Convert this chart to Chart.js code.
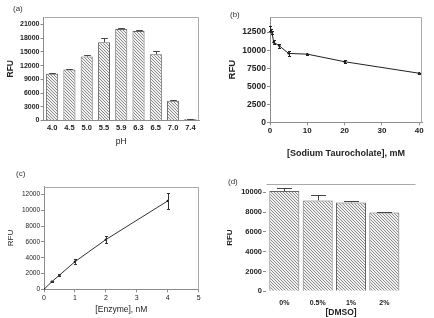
<!DOCTYPE html>
<html>
<head>
<meta charset="utf-8">
<script src="https://cdn.jsdelivr.net/npm/chart.js@4.4.1/dist/chart.umd.min.js"></script>
<style>
  html, body { margin: 0; padding: 0; background: #fff; }
  #wrap { position: relative; width: 434px; height: 318px; overflow: hidden; background: #fff; }
  .pane { position: absolute; width: 217px; height: 159px; }
  .lbl { position: absolute; font: 8px "Liberation Sans", Arial, sans-serif; color: #333; line-height: 1; }
</style>
</head>
<body>
<div id="wrap">
  <div class="pane" style="left:0;top:0"><canvas id="ca" width="217" height="159"></canvas></div>
  <div class="pane" style="left:217px;top:0"><canvas id="cb" width="217" height="159"></canvas></div>
  <div class="pane" style="left:0;top:159px"><canvas id="cc" width="217" height="159"></canvas></div>
  <div class="pane" style="left:217px;top:159px"><canvas id="cd" width="217" height="159"></canvas></div>
  <div class="lbl" style="left:13px;top:5px">(a)</div>
  <div class="lbl" style="left:230px;top:11px">(b)</div>
  <div class="lbl" style="left:16px;top:170px">(c)</div>
  <div class="lbl" style="left:228px;top:178px">(d)</div>
</div>
<script>
// ---------- data ----------
const phLabels = ['4.0', '4.5', '5.0', '5.5', '5.9', '6.3', '6.5', '7.0', '7.4'];
const phRFU    = [10250, 11150, 14000, 17150, 20050, 19600, 14500, 4300, 350];
const phErr    = [150, 100, 250, 850, 150, 100, 800, 150, 50];
const phYTicks = [0, 3000, 6000, 9000, 12000, 15000, 18000, 21000];

const tauroConc = [0, 0.25, 0.5, 1, 2.5, 5, 10, 20, 40];
const tauroRFU  = [12950, 12700, 12500, 11100, 10600, 9550, 9450, 8400, 6800];
const tauroErr  = [350, 200, 200, 250, 300, 400, 80, 180, 50];
const tauroXTicks = [0, 10, 20, 30, 40];
const tauroYTicks = [0, 2500, 5000, 7500, 10000, 12500];

const enzConc = [0, 0.25, 0.5, 1, 2, 4];
const enzRFU  = [0, 950, 1800, 3500, 6300, 11200];
const enzErr  = [0, 50, 150, 300, 400, 1050];
const enzXTicks = [0, 1, 2, 3, 4, 5];
const enzYTicks = [0, 2000, 4000, 6000, 8000, 10000, 12000];

const dmsoLabels = ['0%', '0.5%', '1%', '2%'];
const dmsoRFU    = [10130, 9190, 8990, 7980];
const dmsoErr    = [330, 530, 100, 60];
const dmsoYTicks = [0, 2000, 4000, 6000, 8000, 10000];

// ---------- helpers ----------
const FAM = '"Liberation Sans", Arial, sans-serif';
const TXT = '#222';
const AX = '#8c8c8c';
const plain = v => String(v);

function hatch() {
  const s = 3;
  const c = document.createElement('canvas');
  c.width = s; c.height = s;
  const g = c.getContext('2d');
  g.fillStyle = '#f2f2f2';
  g.fillRect(0, 0, s, s);
  g.fillStyle = '#8a8a8a';
  for (let i = 0; i < s; i++) g.fillRect(i, i, 1, 1);
  return g.createPattern(c, 'repeat');
}

const framePlugin = {
  id: 'frame',
  afterDraw(chart, args, o) {
    if (!o || !o.sides) return;
    const { ctx, chartArea: a } = chart;
    const L = Math.round(a.left) + 0.5, R = Math.round(a.right) - 0.5, T = Math.round(a.top) + 0.5;
    ctx.save();
    ctx.strokeStyle = o.color || '#aaa';
    ctx.lineWidth = 1;
    ctx.beginPath();
    if (o.sides.includes('t')) { ctx.moveTo(L, T); ctx.lineTo(R, T); }
    if (o.sides.includes('r')) { ctx.moveTo(R, T); ctx.lineTo(R, a.bottom); }
    ctx.stroke();
    ctx.restore();
  }
};

const errPlugin = {
  id: 'errbars',
  afterDatasetsDraw(chart, args, o) {
    if (!o || !o.errors) return;
    const { ctx } = chart;
    const meta = chart.getDatasetMeta(0);
    const ys = chart.scales.y;
    const raw = chart.data.datasets[0].data;
    ctx.save();
    ctx.strokeStyle = o.color || '#333';
    ctx.lineWidth = 1;
    meta.data.forEach((el, i) => {
      const e = o.errors[i];
      if (!e) return;
      const v = (typeof raw[i] === 'object') ? raw[i].y : raw[i];
      const x = Math.round(el.x) + 0.5;
      const yt = Math.round(ys.getPixelForValue(v + e)) + 0.5;
      const yb = o.both ? Math.round(ys.getPixelForValue(v - e)) + 0.5 : el.y;
      const cw = o.capFrac ? el.width * o.capFrac / 2 : (o.cap || 2);
      ctx.beginPath();
      ctx.moveTo(x, yb); ctx.lineTo(x, yt);
      ctx.moveTo(x - cw, yt); ctx.lineTo(x + cw, yt);
      if (o.both) { ctx.moveTo(x - cw, yb); ctx.lineTo(x + cw, yb); }
      ctx.stroke();
    });
    ctx.restore();
  }
};
Chart.register(framePlugin, errPlugin);

function fixTicks(arr) { return s => { s.ticks = arr.map(v => ({ value: v })); }; }
function fixW(w) { return s => { s.width = w; }; }
function fixH(h) { return s => { s.height = h; }; }
function font(sz, w) { return { family: FAM, size: sz, weight: w || 'normal', lineHeight: 1.2 }; }

const base = {
  responsive: false,
  animation: false,
  devicePixelRatio: 1,
  events: [],
  plugins: { legend: { display: false }, tooltip: { enabled: false } }
};

// ---------- (a) pH ----------
new Chart(document.getElementById('ca'), {
  type: 'bar',
  data: {
    labels: phLabels,
    datasets: [{ data: phRFU, backgroundColor: hatch(), borderColor: '#666', borderWidth: 1,
      barPercentage: 0.7, categoryPercentage: 1.0 }]
  },
  options: Object.assign({}, base, {
    layout: { padding: { top: 17, right: 18, left: 0, bottom: 0 } },
    plugins: Object.assign({}, base.plugins, {
      frame: { sides: 'tr', color: '#aaa' },
      errbars: { errors: phErr, both: false, capFrac: 0.55, color: '#444' }
    }),
    scales: {
      x: {
        offset: true,
        grid: { display: true, drawOnChartArea: false, drawTicks: false, offset: true },
        border: { display: true, color: AX },
        ticks: { font: font(7.5, 'bold'), color: TXT, padding: 3, maxRotation: 0 },
        title: { display: true, text: 'pH', font: font(8.5), color: TXT, padding: { top: 0, bottom: 12 } },
        afterFit: fixH(38.5)
      },
      y: {
        min: 0, max: 22650,
        grid: { display: true, drawOnChartArea: false, tickLength: 3, color: AX },
        border: { display: true, color: AX },
        ticks: { font: font(7, 'bold'), color: TXT, padding: 1, callback: plain },
        afterBuildTicks: fixTicks(phYTicks),
        title: { display: true, text: 'RFU', font: font(8.5, 'bold'), color: TXT, padding: { top: 6, bottom: 0 } },
        afterFit: fixW(43.5)
      }
    }
  })
});

// ---------- (b) sodium taurocholate ----------
new Chart(document.getElementById('cb'), {
  type: 'scatter',
  data: {
    datasets: [{ data: tauroConc.map((x, i) => ({ x: x, y: tauroRFU[i] })), showLine: true,
      borderColor: '#222', borderWidth: 1, pointRadius: 1.2, pointBackgroundColor: '#111',
      pointBorderWidth: 0 }]
  },
  options: Object.assign({}, base, {
    layout: { padding: { top: 17, right: 12, left: 0, bottom: 0 } },
    plugins: Object.assign({}, base.plugins, {
      frame: { sides: 'tr', color: '#aaa' },
      errbars: { errors: tauroErr, both: true, cap: 1.5, color: '#222' }
    }),
    scales: {
      x: {
        type: 'linear', min: 0, max: 40.75,
        grid: { display: true, drawOnChartArea: false, tickLength: 3, color: AX },
        border: { display: true, color: AX },
        ticks: { font: font(8, 'bold'), color: TXT, padding: 1, maxRotation: 0, callback: plain },
        afterBuildTicks: fixTicks(tauroXTicks),
        title: { display: true, text: '[Sodium Taurocholate], mM', font: font(9, 'bold'), color: TXT, padding: { top: 0, bottom: 0 } },
        afterFit: fixH(36.7)
      },
      y: {
        min: 0, max: 14600,
        grid: { display: true, drawOnChartArea: false, tickLength: 3, color: AX },
        border: { display: true, color: AX },
        ticks: { font: font(8.5, 'bold'), color: TXT, padding: 1, callback: plain },
        afterBuildTicks: fixTicks(tauroYTicks),
        title: { display: true, text: 'RFU', font: font(9.5, 'bold'), color: TXT, padding: { top: 10, bottom: 0 } },
        afterFit: fixW(53)
      }
    }
  })
});

// ---------- (c) enzyme ----------
new Chart(document.getElementById('cc'), {
  type: 'scatter',
  data: {
    datasets: [{ data: enzConc.map((x, i) => ({ x: x, y: enzRFU[i] })), showLine: true,
      borderColor: '#333', borderWidth: 1, pointRadius: 1.2, pointBackgroundColor: '#111',
      pointBorderWidth: 0 }]
  },
  options: Object.assign({}, base, {
    layout: { padding: { top: 27.7, right: 18.3, left: 0, bottom: 0 } },
    plugins: Object.assign({}, base.plugins, {
      frame: { sides: 'tr', color: '#aaa' },
      errbars: { errors: enzErr, both: true, cap: 1.5, color: '#333' }
    }),
    scales: {
      x: {
        type: 'linear', min: 0, max: 5,
        grid: { display: true, drawOnChartArea: false, tickLength: 3, color: AX },
        border: { display: true, color: AX },
        ticks: { font: font(7), color: TXT, padding: 2, maxRotation: 0, callback: plain },
        afterBuildTicks: fixTicks(enzXTicks),
        title: { display: true, text: '[Enzyme], nM', font: font(8.5), color: TXT, padding: { top: 0, bottom: 3.5 } },
        afterFit: fixH(28.7)
      },
      y: {
        min: 0, max: 13000,
        grid: { display: true, drawOnChartArea: false, tickLength: 3, color: AX },
        border: { display: true, color: AX },
        ticks: { font: font(6.5), color: TXT, padding: 1, callback: plain },
        afterBuildTicks: fixTicks(enzYTicks),
        title: { display: true, text: 'RFU', font: font(8), color: TXT, padding: { top: 6, bottom: 0 } },
        afterFit: fixW(44)
      }
    }
  })
});

// ---------- (d) DMSO ----------
new Chart(document.getElementById('cd'), {
  type: 'bar',
  data: {
    datasets: [{ data: dmsoRFU.map((y, i) => ({ x: i, y: y })), backgroundColor: hatch(),
      borderColor: '#666', borderWidth: 1, barPercentage: 0.9, categoryPercentage: 1.0 }]
  },
  options: Object.assign({}, base, {
    layout: { padding: { top: 25, right: 18, left: 0, bottom: 0 } },
    plugins: Object.assign({}, base.plugins, {
      frame: { sides: 't', color: '#aaa' },
      errbars: { errors: dmsoErr, both: false, capFrac: 0.5, color: '#444' }
    }),
    scales: {
      x: {
        type: 'linear', min: -0.55, max: 3.95, offset: false,
        grid: { display: false, drawTicks: false, offset: false },
        border: { display: false },
        ticks: { font: font(7, 'bold'), color: TXT, padding: 8, maxRotation: 0,
          callback: v => dmsoLabels[v] },
        afterBuildTicks: fixTicks(dmsoLabels.map((_, i) => i)),
        title: { display: true, text: '[DMSO]', font: font(8.5, 'bold'), color: TXT, padding: { top: 0, bottom: 0 } },
        afterFit: fixH(26.7)
      },
      y: {
        min: 0, max: 10850,
        grid: { display: true, drawOnChartArea: false, tickLength: 3, color: AX },
        border: { display: false },
        ticks: { font: font(7.5, 'bold'), color: TXT, padding: 1, callback: plain },
        afterBuildTicks: fixTicks(dmsoYTicks),
        title: { display: true, text: 'RFU', font: font(8, 'bold'), color: TXT, padding: { top: 8, bottom: 0 } },
        afterFit: fixW(49)
      }
    }
  })
});
</script>
</body>
</html>
